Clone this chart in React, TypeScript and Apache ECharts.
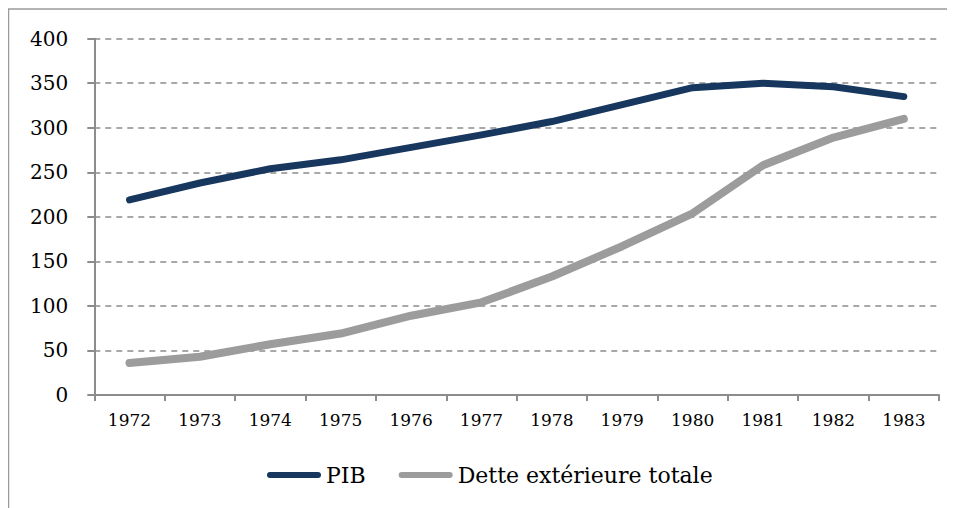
import React, { useEffect, useRef } from "react";
import * as echarts from "echarts";

const years = ["1972", "1973", "1974", "1975", "1976", "1977", "1978", "1979", "1980", "1981", "1982", "1983"];
const pib = [219, 238, 254, 264, 278, 292, 307, 326, 345, 350, 346, 335];
const dette = [36, 43, 57, 69, 89, 104, 133, 167, 204, 258, 289, 310];
const seriesNames = ["PIB", "Dette extérieure totale"];

const FONT = "DejaVu Serif";

export default function App() {
  const ref = useRef<HTMLDivElement>(null);
  useEffect(() => {
    if (!ref.current) return;
    const chart = echarts.init(ref.current, null, { renderer: "svg" });
    const iconPath = "path://M3,0 H51 A3,3 0 0 1 51,6 H3 A3,3 0 0 1 3,0 Z";
    chart.setOption({
      animation: false,
      backgroundColor: "#ffffff",
      textStyle: { fontFamily: FONT, color: "#000" },
      graphic: [
        {
          type: "rect",
          shape: { x: 0.5, y: 1, width: 1000, height: 600 },
          style: { fill: "none", stroke: "#9a9a9a", lineWidth: 1.5 },
          silent: true,
        },
      ],
      grid: { left: 86.3, right: 16, top: 30.7, bottom: 113, containLabel: false },
      legend: {
        left: 254,
        top: 451,
        itemWidth: 54,
        itemHeight: 6,
        itemGap: 33,
        icon: iconPath,
        textStyle: { fontFamily: FONT, fontSize: 22, color: "#000", padding: [0, 0, 0, 0] },
        data: seriesNames,
      },
      xAxis: {
        type: "category",
        data: years,
        boundaryGap: true,
        axisLine: { lineStyle: { color: "#8c8c8c", width: 2 } },
        axisTick: { show: true, length: 6, alignWithLabel: false, lineStyle: { color: "#8c8c8c", width: 2 } },
        axisLabel: { fontFamily: FONT, fontSize: 17, color: "#000", margin: 16 },
        splitLine: { show: false },
      },
      yAxis: {
        type: "value",
        min: 0,
        max: 400,
        interval: 50,
        axisLine: { show: true, lineStyle: { color: "#8c8c8c", width: 2 } },
        axisTick: { show: true, length: 7, lineStyle: { color: "#8c8c8c", width: 2 } },
        axisLabel: { fontFamily: FONT, fontSize: 20, color: "#000", margin: 26 },
        splitLine: { show: true, lineStyle: { color: "#8c8c8c", width: 1.5, type: [6, 5] } },
      },
      series: [
        {
          name: seriesNames[0],
          type: "line",
          data: pib,
          symbol: "none",
          color: "#17375E",
          lineStyle: { color: "#17375E", width: 7, cap: "round", join: "round" },
          z: 3,
        },
        {
          name: seriesNames[1],
          type: "line",
          data: dette,
          symbol: "none",
          color: "#9c9c9c",
          lineStyle: { color: "#9c9c9c", width: 8, cap: "round", join: "round" },
          z: 2,
        },
      ],
    });
    return () => chart.dispose();
  }, []);
  return <div ref={ref} style={{ width: 947, height: 500 }} />;
}
